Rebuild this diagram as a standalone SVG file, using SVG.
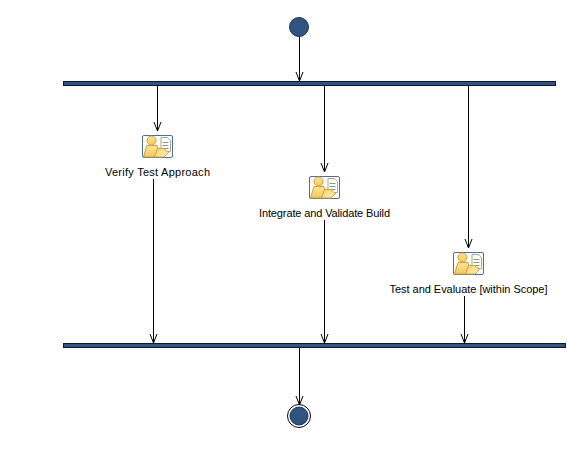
<svg xmlns="http://www.w3.org/2000/svg" width="567" height="449" viewBox="0 0 567 449">
<style>
.bar{fill:#2f5480;stroke:#101828;stroke-width:1}
.c{fill:none;stroke:#000;stroke-width:1}
text{font-family:"Liberation Sans",Arial,sans-serif;font-size:11px;fill:#000}
</style>
<defs>
<marker id="a" markerUnits="userSpaceOnUse" markerWidth="12" markerHeight="10" refX="10" refY="5" orient="auto" viewBox="0 0 12 10"><path d="M1 1.500 L10 5 L1 8.500" fill="none" stroke="#000"/></marker>
<linearGradient id="y" x1="0" y1="0" x2="0" y2="1"><stop offset="0" stop-color="#fbe596"/><stop offset="1" stop-color="#f3c95e"/></linearGradient>
<linearGradient id="y2" x1="0" y1="0" x2="1" y2="1"><stop offset="0" stop-color="#f6d06a"/><stop offset="1" stop-color="#fdf0c0"/></linearGradient>
<g id="icon">
<rect x="0.500" y="0.500" width="30" height="22" rx="1.500" fill="#fdfdf8" stroke="#4f6f9a"/>
<path d="M19 2.500h6.500l3 3v11h-9.500z" fill="#fff" stroke="#a8a890"/>
<path d="M20.500 7.500h6M20.500 10.500h6M20.500 13.500h6" stroke="#8c9c78"/>
<circle cx="9.500" cy="5.500" r="4.500" fill="url(#y)" stroke="#cfa23f"/>
<path d="M5 10.500h10l1 4-3 7.500H1.500z" fill="url(#y)" stroke="#cfa23f"/>
<path d="M15.500 13.500h6l5 4-4.500 4.500H12.500z" fill="url(#y2)" stroke="#cfa23f"/>
</g>
</defs>
<g id="connectors">
<path class="c" d="M299.500 37V81" marker-end="url(#a)"/>
<path class="c" d="M157.500 85V131" marker-end="url(#a)"/>
<path class="c" d="M324.500 85V172" marker-end="url(#a)"/>
<path class="c" d="M468.500 85V248" marker-end="url(#a)"/>
<path class="c" d="M153.500 179V343" marker-end="url(#a)"/>
<path class="c" d="M324.500 220V343" marker-end="url(#a)"/>
<path class="c" d="M464.500 296V343" marker-end="url(#a)"/>
<path class="c" d="M299.500 347V405" marker-end="url(#a)"/>
</g>
<g id="start"><circle cx="299" cy="27" r="9.500" fill="#2f5480" stroke="#1c3557"/></g>
<g id="fork"><rect class="bar" x="63.500" y="81.500" width="492" height="4"/></g>
<g id="verify"><use href="#icon" x="142" y="135"/><text x="105" y="176" textLength="105" lengthAdjust="spacing">Verify Test Approach</text></g>
<g id="integrate"><use href="#icon" x="309" y="176"/><text x="259" y="217" textLength="131" lengthAdjust="spacing">Integrate and Validate Build</text></g>
<g id="test"><use href="#icon" x="453" y="252"/><text x="389.500" y="293" textLength="158" lengthAdjust="spacing">Test and Evaluate [within Scope]</text></g>
<g id="join"><rect class="bar" x="63.500" y="343.500" width="502" height="4"/></g>
<g id="end"><circle cx="299" cy="416" r="11.500" fill="#fff" stroke="#000"/><circle cx="299" cy="416" r="9" fill="#2f5480" stroke="#1c3557"/></g>
</svg>
